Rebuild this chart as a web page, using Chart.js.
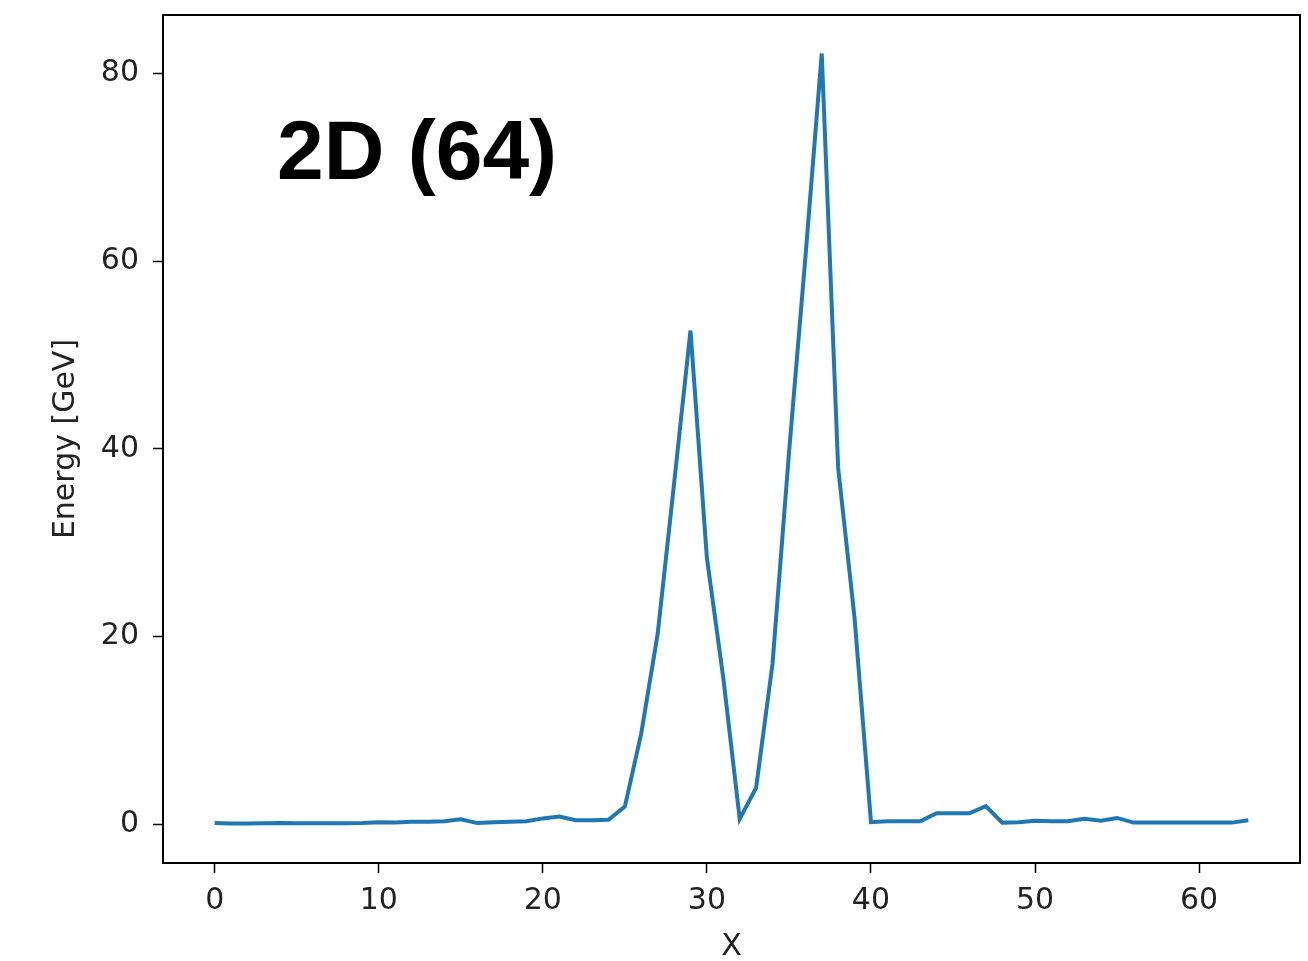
<!DOCTYPE html>
<html>
<head>
<meta charset="utf-8">
<script src="https://cdn.jsdelivr.net/npm/chart.js@4/dist/chart.umd.min.js"></script>
<style>
  html, body { margin: 0; padding: 0; background: #ffffff; }
  #wrap { width: 1308px; height: 961px; position: relative; }
</style>
</head>
<body>
<div id="wrap"><canvas id="c" width="1308" height="961"></canvas></div>
<script>
// ---- data ----
const xCategories = Array.from({length: 64}, (_, i) => i);
const energyGeV = [
  0.15, 0.10, 0.10, 0.12, 0.15, 0.12, 0.12, 0.12, 0.12, 0.15,
  0.25, 0.20, 0.28, 0.30, 0.35, 0.55, 0.15, 0.25, 0.30, 0.35,
  0.65, 0.85, 0.45, 0.45, 0.50, 1.90, 9.70, 20.3, 36.3, 52.6,
  28.4, 15.6, 0.60, 3.90, 17.1, 39.5, 60.3, 82.1, 38.0, 22.0,
  0.25, 0.35, 0.35, 0.35, 1.20, 1.20, 1.20, 1.95, 0.20, 0.25,
  0.40, 0.35, 0.35, 0.60, 0.40, 0.70, 0.20, 0.20, 0.20, 0.20,
  0.20, 0.20, 0.20, 0.45
];
const xTicks = [0, 10, 20, 30, 40, 50, 60];
const yTicks = [0, 20, 40, 60, 80];
const annotationText = "2D (64)";
const xTitle = "X";
const yTitle = "Energy [GeV]";

const points = xCategories.map((x, i) => ({x: x, y: energyGeV[i]}));

const frame = {
  id: 'frame',
  afterDraw(chart) {
    const {ctx, chartArea: a} = chart;
    ctx.save();
    ctx.strokeStyle = '#000';
    ctx.lineWidth = 2;
    ctx.strokeRect(a.left, a.top, a.right - a.left, a.bottom - a.top);
    ctx.fillStyle = '#000';
    ctx.font = 'bold 84px "Liberation Sans", Arial, sans-serif';
    ctx.textBaseline = 'alphabetic';
    ctx.textAlign = 'left';
    ctx.fillText(annotationText, a.left + 114, a.top + 164);
    ctx.restore();
  }
};

const tickFont = {family: '"DejaVu Sans", sans-serif', size: 30};

new Chart(document.getElementById('c'), {
  type: 'line',
  data: {
    datasets: [{
      data: points,
      borderColor: '#1f77b4',
      borderWidth: 4,
      pointRadius: 0,
      tension: 0,
      fill: false
    }]
  },
  options: {
    responsive: false,
    animation: false,
    devicePixelRatio: 1,
    layout: {padding: {left: 0, right: 8, top: 0, bottom: 0}},
    plugins: {legend: {display: false}, tooltip: {enabled: false}},
    scales: {
      x: {
        type: 'linear',
        min: -3.15,
        max: 66.15,
        afterBuildTicks: s => { s.ticks = xTicks.map(v => ({value: v})); },
        afterFit: s => { s.height = 98; },
        grid: {display: true, drawOnChartArea: false, drawTicks: true, tickLength: 10, tickColor: '#000', tickWidth: 1.5},
        border: {display: true, color: '#000', width: 2},
        ticks: {color: '#222', font: tickFont, padding: 10, maxRotation: 0, autoSkip: false,
                callback: v => String(v)},
        title: {display: true, text: xTitle, color: '#222', font: tickFont, padding: {top: 0, bottom: -4}}
      },
      y: {
        type: 'linear',
        min: -4.1,
        max: 86.2,
        afterBuildTicks: s => { s.ticks = yTicks.map(v => ({value: v})); },
        afterFit: s => { s.width = 163; s.paddingTop = 15; s.paddingBottom = 0; },
        grid: {display: true, drawOnChartArea: false, drawTicks: true, tickLength: 10, tickColor: '#000', tickWidth: 1.5},
        border: {display: true, color: '#000', width: 2},
        ticks: {color: '#222', font: tickFont, padding: 14, autoSkip: false,
                callback: v => String(v)},
        title: {display: true, text: yTitle, color: '#222', font: tickFont, padding: {top: 48, bottom: 0}}
      }
    }
  },
  plugins: [frame]
});
</script>
</body>
</html>
